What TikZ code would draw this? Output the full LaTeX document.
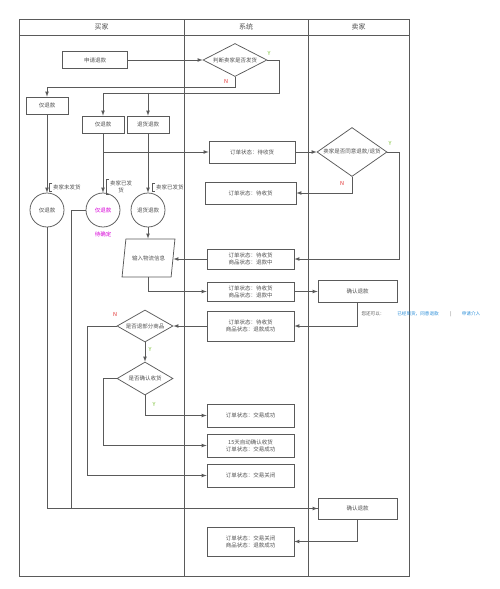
\documentclass[tikz,border=0pt]{standalone}
\usepackage{fontspec}
\newfontfamily\cjk{Noto Sans CJK SC}
\usepackage{tikz}
\usetikzlibrary{shapes.geometric,arrows,positioning}
\definecolor{linegray}{RGB}{90,90,90}
\definecolor{textgray}{RGB}{80,80,80}
\definecolor{yesgreen}{RGB}{120,190,50}
\definecolor{nored}{RGB}{225,40,40}
\definecolor{pinktext}{RGB}{215,0,215}
\definecolor{tipblue}{RGB}{40,140,215}

\begin{document}
\begin{tikzpicture}[
        x=1pt, y=-1pt, % 按像素定位, y轴向下
        every node/.style={font=\cjk\fontsize{5.5}{7}\selectfont, text=textgray},
        lane/.style={draw=linegray, line width=0.9pt},
        lanehead/.style={font=\cjk\fontsize{7}{8}\selectfont},
        proc/.style={rectangle, draw=linegray, line width=0.75pt, minimum width=87pt, minimum height=#1, align=center, inner sep=1pt},
        proc/.default=23pt,
        decision/.style={diamond, draw=linegray, line width=0.75pt, inner sep=0pt},
        roundbox/.style={circle, draw=linegray, line width=0.75pt, minimum size=34pt, inner sep=0pt},
        io/.style={trapezium, trapezium left angle=74, trapezium right angle=106, trapezium stretches, draw=linegray, line width=0.75pt, minimum width=53pt, minimum height=38pt},
        arrow/.style={draw=linegray, line width=0.75pt, ->, >=latex},
        link/.style={draw=linegray, line width=0.75pt},
        note/.style={anchor=west, inner xsep=4pt, inner ysep=1pt, align=center},
        bracket/.style={draw=linegray, line width=0.5pt},
        yesmark/.style={text=yesgreen, font=\cjk\fontsize{5.5}{6}\selectfont},
        nomark/.style={text=nored, font=\cjk\fontsize{5.5}{6}\selectfont},
        hinttext/.style={font=\cjk\fontsize{4.6}{5.5}\selectfont}
    ]
    \useasboundingbox (0,0) rectangle (500,589);

    % 泳道
    \draw[lane] (19,19) rectangle (409,576);
    \draw[lane] (19,35) -- (409,35);
    \draw[lane] (184,19) -- (184,576);
    \draw[lane] (308,19) -- (308,576);
    \node[lanehead] (buyer) at (101.5,27) {买家};
    \node[lanehead] (system) at (246,27) {系统};
    \node[lanehead] (seller) at (358.5,27) {卖家};

    % 买家节点
    \node[proc=17pt, minimum width=65pt] (apply) at (95,60) {申请退款};
    \node[proc=17pt, minimum width=42pt] (onlyA) at (47,105.5) {仅退款};
    \node[proc=17pt, minimum width=42pt] (onlyB) at (103,124.5) {仅退款};
    \node[proc=17pt, minimum width=42pt] (retB) at (148,124.5) {退货退款};
    \node[roundbox] (circA) at (47,210) {仅退款};
    \node[roundbox, text=pinktext] (circB) at (103,210) {仅退款};
    \node[roundbox] (circC) at (148,210) {退货退款};
    \node[text=pinktext, below=1pt of circB] (pending) {待确定};
    \node[io] (input) at (148.5,258) {输入物流信息};
    \node[decision, minimum width=56pt, minimum height=32pt, label={center:是否退部分商品}] (judge3) at (145,326) {};
    \node[decision, minimum width=56pt, minimum height=33pt, label={center:是否确认收货}] (judge4) at (145,378.5) {};

    % 发货状态注释
    \node[note] (noteA) at (49,187) {卖家未发货};
    \node[note] (noteB) at (106,186.5) {卖家已发\\货};
    \node[note] (noteC) at (152,187) {卖家已发货};
    \foreach \n in {noteA,noteB,noteC}
        \draw[bracket] ([xshift=3pt]\n.north west) -- (\n.north west) -- (\n.south west) -- ([xshift=3pt]\n.south west);

    % 系统节点
    \node[decision, minimum width=64pt, minimum height=33pt, label={center:判断卖家是否发货}] (judge1) at (235,60) {};
    \node[proc=22pt, minimum width=86pt] (s1) at (252,152) {订单状态：待收货};
    \node[proc=22pt, minimum width=91pt] (s2) at (250.5,193) {订单状态：待收货};
    \node[proc=20pt] (s3) at (250.5,259) {订单状态：待收货\\商品状态：退款中};
    \node[proc=19pt] (s4) at (250.5,291.5) {订单状态：待收货\\商品状态：退款中};
    \node[proc=30pt] (s5) at (250.5,326) {订单状态：待收货\\商品状态：退款成功};
    \node[proc] (s6) at (250.5,415.5) {订单状态：交易成功};
    \node[proc] (s7) at (250.5,445.5) {15天自动确认收货\\订单状态：交易成功};
    \node[proc] (s8) at (250.5,475.5) {订单状态：交易关闭};
    \node[proc=29pt] (s9) at (250.5,541.5) {订单状态：交易关闭\\商品状态：退款成功};

    % 卖家节点
    \node[decision, minimum width=70pt, minimum height=49pt, label={center:卖家是否同意退款/退货}] (judge2) at (352,152) {};
    \node[proc=22pt, minimum width=79pt] (confirm1) at (357.5,291.5) {确认退款};
    \node[proc=21pt, minimum width=79pt] (confirm2) at (357.5,508.5) {确认退款};

    % 提示文字
    \node[hinttext] (hint1) at (373,314) {您还可以：};
    \node[hinttext, text=tipblue] (hint2) at (418,314) {已经到货，同意退款};
    \node[hinttext] (hint3) at (451,314) {|};
    \node[hinttext, text=tipblue] (hint4) at (471,314) {申请介入};

    % 连接线
    \draw[arrow] (apply.east) -- (judge1.west);
    \draw[arrow] (judge1.east) -- ++(12,0) -- ++(0,33) -| (onlyB.north);
    \draw[arrow] ([yshift=23pt]retB.north) -- (retB.north);
    \draw[arrow] (judge1.south) -- ++(0,10) -| (onlyA.north);
    \node[yesmark] (y1) at (269,53) {Y};
    \node[nomark] (n1) at (226,81) {N};

    \draw[arrow] (onlyA.south) -- (circA.north);
    \draw[arrow] (onlyB.south) -- (circB.north);
    \draw[arrow] (retB.south) -- (circC.north);
    \draw[arrow] (onlyB.south |- s1.west) -- (s1.west);

    \draw[arrow] (s1.east) -- (judge2.west);
    \draw[arrow] (judge2.south) |- (s2.east);
    \draw[arrow] (judge2.east) -- ++(12,0) |- (s3.east);
    \node[yesmark] (y2) at (390,143) {Y};
    \node[nomark] (n2) at (342,183) {N};

    \draw[arrow] (circC.south) -- (circC.south |- input.north);
    \draw[arrow] (s3.west) -- (s3.west -| input.east);
    \draw[arrow] (input.south -| circC.south) |- (s4.west);
    \draw[arrow] (s4.east) -- (confirm1.west);
    \draw[arrow] (confirm1.south) |- (s5.east);
    \draw[arrow] (s5.west) -- (judge3.east);

    \draw[arrow] (judge3.south) -- (judge4.north);
    \draw[arrow] (judge3.west) -- ++(-29,0) |- (s8.west);
    \draw[arrow] (judge4.west) -- ++(-13,0) |- (s7.west);
    \draw[arrow] (judge4.south) |- (s6.west);
    \node[nomark] (n3) at (115,314) {N};
    \node[yesmark] (y3) at (150,349) {Y};
    \node[yesmark] (y4) at (154,404) {Y};

    \draw[arrow] (circA.south) |- (confirm2.west);
    \draw[link] (circB.west) -- ++(-14,0) |- (confirm2.west);
    \draw[arrow] (confirm2.south) |- (s9.east);

\end{tikzpicture}
\end{document}
